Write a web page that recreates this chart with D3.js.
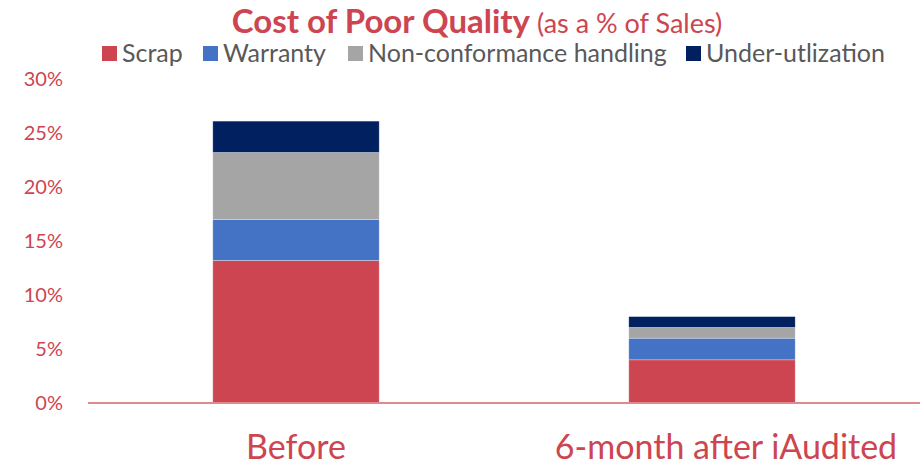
<!DOCTYPE html>
<html>
<head>
<meta charset="utf-8">
<script src="https://cdn.jsdelivr.net/npm/d3@7"></script>
<style>
  body { margin: 0; background: #fff; }
  svg text { font-family: Lato, "Open Sans", sans-serif; }
</style>
</head>
<body>
<div id="chart"></div>
<script>
var svgWidth = 922
var svgHeight = 469

// data (percent of sales)
var categories = ["Before", "6-month after iAudited"]
var seriesNames = ["Scrap", "Warranty", "Non-conformance handling", "Under-utlization"]
var scrap = [13.2, 4.0]
var warranty = [3.8, 2.0]
var nonConformance = [6.2, 1.0]
var underUtilization = [2.9, 1.0]
var yTicks = [0, 5, 10, 15, 20, 25, 30]

var colors = ["#cd4550", "#4472c4", "#a5a5a5", "#002060"]
var red = "#cd4550"

var margin = { top: 79, right: 2, bottom: 66, left: 88 }
var chartWidth = svgWidth - margin.left - margin.right
var chartHeight = svgHeight - margin.top - margin.bottom

var svg = d3.select("#chart").append("svg").attr("width", svgWidth).attr("height", svgHeight)
var chartGroup = svg.append("g").attr("transform", `translate(${margin.left}, ${margin.top})`)

var table = categories.map(function (c, i) {
    return {
        category: c,
        "Scrap": scrap[i],
        "Warranty": warranty[i],
        "Non-conformance handling": nonConformance[i],
        "Under-utlization": underUtilization[i]
    }
})

var stacked = d3.stack().keys(seriesNames)(table)

var xScale = d3.scaleBand().domain(categories).range([0, chartWidth]).paddingInner(0.6).paddingOuter(0.3)
var yScale = d3.scaleLinear().domain([0, 30]).range([chartHeight, 0])

// y axis labels only, no line
var leftAxis = d3.axisLeft(yScale).tickValues(yTicks).tickFormat(d => d + "%").tickSize(0).tickPadding(25)
var yAxis = chartGroup.append("g").call(leftAxis)
yAxis.select(".domain").remove()
yAxis.selectAll("text").attr("fill", red).attr("font-size", "20px")

chartGroup.selectAll(".layer")
    .data(stacked)
    .enter()
    .append("g")
    .attr("fill", (d, i) => colors[i])
    .selectAll("rect")
    .data(d => d)
    .enter()
    .append("rect")
    .attr("x", d => xScale(d.data.category))
    .attr("y", d => yScale(d[1]))
    .attr("width", xScale.bandwidth())
    .attr("height", d => yScale(d[0]) - yScale(d[1]))
    .attr("stroke", "#ffffff")
    .attr("stroke-opacity", 0.4)
    .attr("stroke-width", 0.75)

// baseline
chartGroup.append("line")
    .attr("x1", 0).attr("x2", chartWidth)
    .attr("y1", yScale(0)).attr("y2", yScale(0))
    .attr("stroke", "#e08890").attr("stroke-width", 2)

// category labels
var bottomAxis = d3.axisBottom(xScale).tickSize(0).tickPadding(32)
var xAxis = chartGroup.append("g").attr("transform", `translate(0, ${chartHeight})`).call(bottomAxis)
xAxis.select(".domain").remove()
xAxis.selectAll("text").attr("fill", red).attr("font-size", "34px")
    .attr("dx", (d, i) => i == 1 ? 14 : 0)

// title
var title = svg.append("text").attr("x", 477).attr("y", 33).attr("text-anchor", "middle").attr("fill", red)
title.append("tspan").attr("font-size", "33px").attr("font-weight", "bold").text("Cost of Poor Quality")
title.append("tspan").attr("font-size", "27px").text(" (as a % of Sales)")

// legend
var legendX = [102, 203, 348, 686]
var legend = svg.selectAll(".legend")
    .data(seriesNames)
    .enter()
    .append("g")
    .attr("transform", (d, i) => `translate(${legendX[i]}, 46)`)

legend.append("rect").attr("width", 15).attr("height", 15).attr("fill", (d, i) => colors[i])
legend.append("text")
    .attr("x", 20)
    .attr("y", 7)
    .attr("dy", "0.35em")
    .attr("font-size", "25px")
    .attr("fill", "#595959")
    .text(d => d)
</script>
</body>
</html>
